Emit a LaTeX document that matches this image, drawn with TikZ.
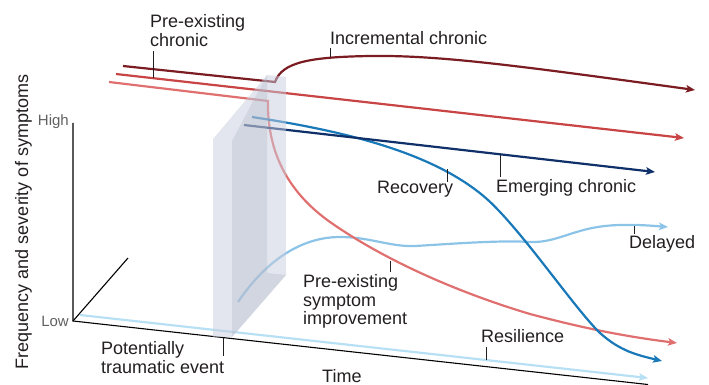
\documentclass[tikz,border=0pt]{standalone}
\usepackage{fontspec}
\setmainfont{Liberation Sans}
\usetikzlibrary{arrows.meta}
\definecolor{cDarkRed}{HTML}{7B1C22}
\definecolor{cRed}{HTML}{C94545}
\definecolor{cSalmon}{HTML}{E07070}
\definecolor{cBlue}{HTML}{1878B8}
\definecolor{cNavy}{HTML}{10306A}
\definecolor{cSky}{HTML}{8CC4E8}
\definecolor{cPale}{HTML}{B8E0F5}
\definecolor{cSlabA}{HTML}{C7CDDD}
\definecolor{cSlabB}{HTML}{AAB1C3}
\definecolor{cText}{HTML}{231F20}
\newcommand\lblfont{\fontsize{18}{18.5}\selectfont}
\newcommand\axfont{\fontsize{15}{17}\selectfont}
\tikzset{
  curve/.style={line width=2.2pt},
  tip/.style={-{Stealth[length=9pt,width=7.5pt,inset=2pt]}},
  leader/.style={line width=0.9pt, draw=cText},
  axis/.style={line width=1.1pt, draw=black},
  lbl/.style={font=\lblfont, inner sep=0pt, text=cText},
  axlbl/.style={font=\axfont, inner sep=0pt, text=black!62},
}
\begin{document}
\begin{tikzpicture}[x=1pt,y=-1pt]
\useasboundingbox (0,0) rectangle (709,385);
% axes
\coordinate (O) at (73,321);
\coordinate (Hi) at (73,123);
\coordinate (D) at (128,258);
\coordinate (T) at (648,384.5);
\draw[axis] (Hi) -- (O) -- (T);
\draw[axis] (O) -- (D);
% curves
\draw[curve, cPale, tip] (80,315) -- (648,378);
\draw[curve, cSky, tip] (238,302) .. controls (265,262) and (300,237) .. (340,237)
  .. controls (370,237) and (390,247) .. (415,246)
  .. controls (450,244) and (500,240) .. (530,242)
  .. controls (560,243) and (575,226) .. (620,225)
  .. controls (640,224.5) and (655,226) .. (668,227);
\draw[curve, cSalmon, tip] (109,82) -- (268,101) -- (268,108)
  .. controls (269,150) and (285,190) .. (330,222)
  .. controls (380,257) and (450,290) .. (530,314)
  .. controls (590,330) and (630,337) .. (677,343);
\draw[curve, cBlue, tip] (252,117) .. controls (352,132) and (438,155) .. (488,200)
  .. controls (523,232) and (575,309) .. (600,333)
  .. controls (620,351) and (637,355) .. (662,361);
\draw[curve, cNavy, tip] (244,125) -- (655,172);
\draw[curve, cRed, tip] (116,74) -- (684,138);
\draw[curve, cDarkRed, tip] (123,66) -- (275,82) .. controls (282,62) and (310,57) .. (370,56) .. controls (440,55) and (520,66) .. (695,90);
% slab
\fill[cSlabA, fill opacity=0.5] (213,139) -- (267,75) -- (286,77) -- (286,275) -- (232,337) -- (213,337) -- cycle;
\fill[cSlabB, fill opacity=0.3] (232,141) -- (267,75) -- (267,273) -- (286,275) -- (232,337) -- cycle;
% axis labels
\node[axlbl, anchor=base east] (high) at (69,125.5) {High};
\node[axlbl, anchor=base east] (low) at (69,326) {Low};
\node[lbl, rotate=90, anchor=base] (ylab) at (28,222) {Frequency and severity of symptoms};
\node[lbl, anchor=base west] (time) at (322,382.5) {Time};
% labels
\node[lbl, align=left, anchor=north west] (pec) at (150,14.5) {Pre-existing\\chronic};
\node[lbl, anchor=base west] (inc) at (330,44.5) {Incremental chronic};
\node[lbl, anchor=base west] (rec) at (377,193) {Recovery};
\node[lbl, anchor=base west] (emc) at (496,192) {Emerging chronic};
\node[lbl, anchor=base west] (del) at (629,248) {Delayed};
\node[lbl, align=left, anchor=north west] (psi) at (303,274.5) {Pre-existing\\symptom\\improvement};
\node[lbl, anchor=base west] (res) at (481,342) {Resilience};
\node[lbl, align=left, anchor=north west] (pte) at (101,341.5) {Potentially\\traumatic event};
% leaders
\coordinate (pecA) at (153,51); \coordinate (pecB) at (153,78);
\coordinate (incA) at (330,48); \coordinate (incB) at (330,57.5);
\coordinate (recA) at (447,169); \coordinate (recB) at (447,182);
\coordinate (emcA) at (500,155); \coordinate (emcB) at (500,177);
\coordinate (delA) at (634,225.5); \coordinate (delB) at (634,234);
\coordinate (psiA) at (390,261); \coordinate (psiB) at (390,272);
\coordinate (resA) at (486,347); \coordinate (resB) at (486,360);
\coordinate (pteA) at (223,337.5); \coordinate (pteB) at (223,356);
\draw[leader] (pecA) -- (pecB);
\draw[leader] (incA) -- (incB);
\draw[leader] (recA) -- (recB);
\draw[leader] (emcA) -- (emcB);
\draw[leader] (delA) -- (delB);
\draw[leader] (psiA) -- (psiB);
\draw[leader] (resA) -- (resB);
\draw[leader] (pteA) -- (pteB);
\end{tikzpicture}
\end{document}
